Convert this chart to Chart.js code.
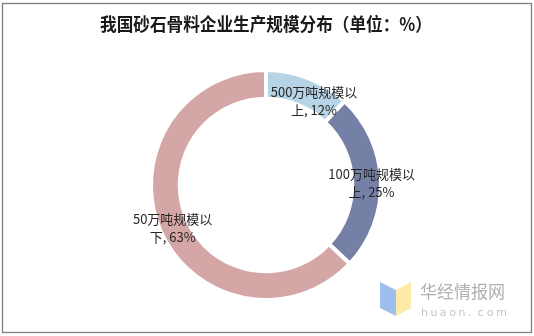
<!DOCTYPE html>
<html>
<head>
<meta charset="utf-8">
<script src="https://cdn.jsdelivr.net/npm/chart.js@4"></script>
<style>
  body { margin: 0; background: #fff; }
  #wrap { width: 534px; height: 336px; }
</style>
</head>
<body>
<div id="wrap"><canvas id="scale"></canvas></div>
<script>
// chart values
const labels = ['500万吨规模以上', '100万吨规模以上', '50万吨规模以下'];
const values = [12, 25, 63];
const sliceColors = ['rgb(183, 211, 230)', 'rgb(117, 128, 166)', 'rgb(213, 166, 166)'];
// label text split in two lines like the picture
const labelLines = [
  ['500万吨规模以', '上, 12%'],
  ['100万吨规模以', '上, 25%'],
  ['50万吨规模以', '下, 63%']
];
const labelShift = [[11, 10], [5, 1], [-1, 3]];

// frame round the picture
const framePlugin = {
  id: 'frame',
  afterDraw(chart) {
    const c = chart.ctx;
    c.save();
    c.strokeStyle = '#7f7f7f';
    c.lineWidth = 1.3;
    c.strokeRect(2.5, 3.5, 529, 329);
    c.restore();
  }
};

// text labels on the ring
const sliceLabels = {
  id: 'sliceLabels',
  afterDatasetsDraw(chart) {
    const c = chart.ctx;
    const arcs = chart.getDatasetMeta(0).data;
    c.save();
    c.font = '13px "Noto Sans CJK SC", "Noto Sans", sans-serif';
    c.fillStyle = '#262626';
    c.textAlign = 'center';
    c.textBaseline = 'middle';
    arcs.forEach((arc, i) => {
      const p = arc.tooltipPosition();
      const x = p.x + labelShift[i][0];
      const y = p.y + labelShift[i][1];
      c.fillText(labelLines[i][0], x, y - 9);
      c.fillText(labelLines[i][1], x, y + 9);
    });
    c.restore();
  }
};

// watermark in the lower right corner
const watermark = {
  id: 'watermark',
  afterDraw(chart) {
    const c = chart.ctx;
    c.save();
    c.fillStyle = 'rgba(140, 180, 235, 0.85)';
    c.beginPath();
    c.moveTo(380, 282); c.lineTo(396, 290); c.lineTo(396, 316); c.lineTo(380, 308);
    c.closePath(); c.fill();
    c.fillStyle = 'rgba(253, 232, 160, 0.9)';
    c.beginPath();
    c.moveTo(396, 290); c.lineTo(411, 282); c.lineTo(411, 308); c.lineTo(396, 316);
    c.closePath(); c.fill();
    c.fillStyle = '#b0b0b0';
    c.textBaseline = 'middle';
    c.textAlign = 'left';
    c.font = '17px "Noto Sans CJK SC", sans-serif';
    c.fillText('华经情报网', 420, 292);
    c.font = '11px "DejaVu Sans", sans-serif';
    c.fillStyle = '#c4c4c4';
    const s = 'huaon.com';
    for (let i = 0; i < s.length; i++) {
      c.fillText(s[i], 421 + i * 9.4, 313);
    }
    c.restore();
  }
};

const ctx = document.getElementById('scale').getContext('2d');
const myChart = new Chart(ctx, {
  type: 'doughnut',
  data: {
    labels: labels,
    datasets: [{
      data: values,
      backgroundColor: sliceColors,
      borderColor: '#ffffff',
      borderWidth: 4
    }]
  },
  options: {
    responsive: true,
    maintainAspectRatio: false,
    animation: false,
    cutout: '75%',
    layout: {
      padding: { top: 0, bottom: 34, left: 100, right: 102 }
    },
    plugins: {
      legend: { display: false },
      tooltip: { enabled: false },
      title: {
        display: true,
        text: '我国砂石骨料企业生产规模分布（单位：%）',
        color: '#1a1a1a',
        font: { family: '"Noto Sans CJK SC", sans-serif', size: 18, weight: 'bold' },
        padding: { top: 13, bottom: 33.4 }
      }
    }
  },
  plugins: [sliceLabels, watermark, framePlugin]
});
</script>
</body>
</html>
